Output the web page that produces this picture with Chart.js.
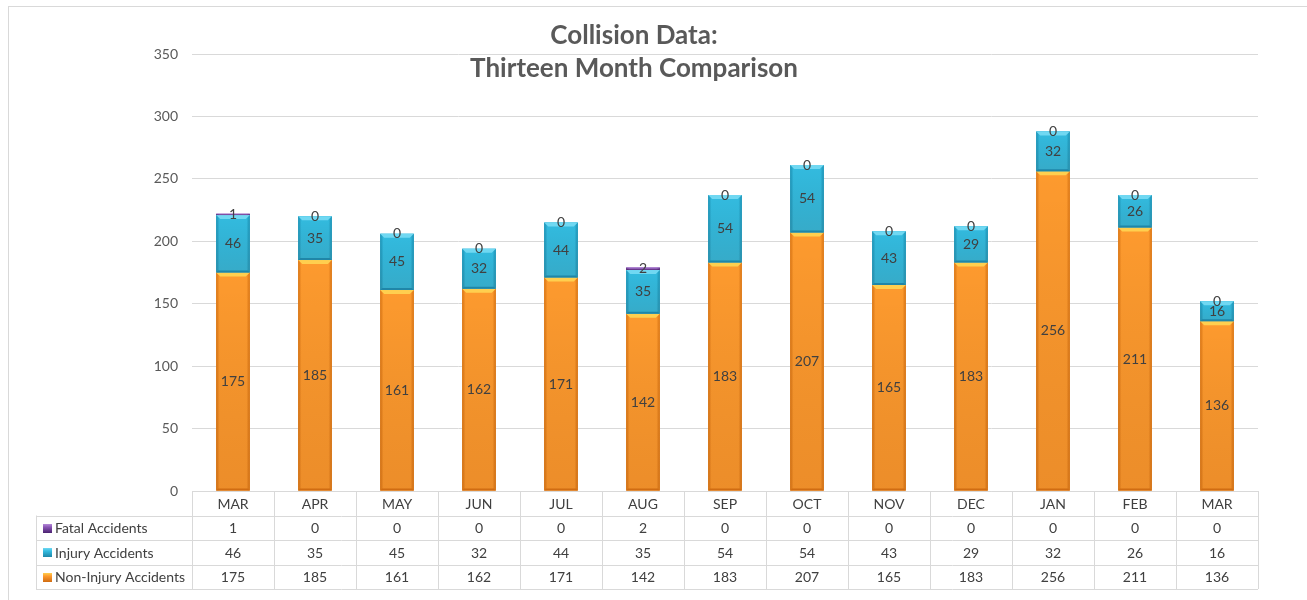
<!DOCTYPE html>
<html>
<head>
<meta charset="utf-8">
<script src="https://cdn.jsdelivr.net/npm/chart.js@4.4.1/dist/chart.umd.min.js"></script>
<style>
  html, body { margin: 0; padding: 0; background: #fff; }
  #wrap { width: 1307px; height: 600px; position: relative; }
</style>
</head>
<body>
<div id="wrap"><canvas id="collisionChart" width="1307" height="600"></canvas></div>
<script>
const months = ['MAR', 'APR', 'MAY', 'JUN', 'JUL', 'AUG', 'SEP', 'OCT', 'NOV', 'DEC', 'JAN', 'FEB', 'MAR'];
const nonInjury = [175, 185, 161, 162, 171, 142, 183, 207, 165, 183, 256, 211, 136];
const injury = [46, 35, 45, 32, 44, 35, 54, 54, 43, 29, 32, 26, 16];
const fatal = [1, 0, 0, 0, 0, 2, 0, 0, 0, 0, 0, 0, 0];
const yTicks = [0, 50, 100, 150, 200, 250, 300, 350];
const titleLines = ['Collision Data:', 'Thirteen Month Comparison'];

const FONT = 'Lato, "Open Sans", sans-serif';
const TEXT = '#404040';
const GRID = '#d9d9d9';

// colour sets for each series: edge, centre, top highlight, bottom shade
const palette = {
  nonInjury: { edge: '#d87414', mid: '#fd9a2e', light: '#ffcf4f', dark: '#d06c12' },
  injury: { edge: '#1d92b5', mid: '#33bbdf', light: '#70d8f2', dark: '#1f86a8' },
  fatal: { edge: '#5a2d82', mid: '#8a55b5', light: '#b48ad8', dark: '#4a2270' }
};

// table rows drawn under the plot, top to bottom
const tableRows = [
  { label: 'Fatal Accidents', values: fatal, key: 'fatal' },
  { label: 'Injury Accidents', values: injury, key: 'injury' },
  { label: 'Non-Injury Accidents', values: nonInjury, key: 'nonInjury' }
];

// repaints each bar with its own gradient and a bevelled edge
const bevelPlugin = {
  id: 'bevel',
  afterDatasetsDraw(chart) {
    const ctx = chart.ctx;
    ctx.save();
    chart.data.datasets.forEach((ds, i) => {
      const pal = palette[ds.key];
      chart.getDatasetMeta(i).data.forEach(bar => {
        const top = Math.min(bar.y, bar.base);
        const h = Math.abs(bar.base - bar.y);
        if (h < 0.5) return;
        const l = bar.x - bar.width / 2, w = bar.width;

        const g = ctx.createLinearGradient(l, 0, l + w, 0);
        g.addColorStop(0, pal.edge);
        g.addColorStop(0.1, pal.mid);
        g.addColorStop(0.9, pal.mid);
        g.addColorStop(1, pal.edge);
        ctx.fillStyle = g;
        ctx.fillRect(l, top, w, h);

        const vg = ctx.createLinearGradient(0, top, 0, top + h);
        vg.addColorStop(0, 'rgba(0,0,0,0)');
        vg.addColorStop(1, 'rgba(90,30,0,0.10)');
        ctx.fillStyle = vg;
        ctx.fillRect(l, top, w, h);

        const edge = Math.min(4, h / 3);
        ctx.fillStyle = pal.light;
        ctx.beginPath();
        ctx.moveTo(l, top);
        ctx.lineTo(l + w, top);
        ctx.lineTo(l + w - edge, top + edge);
        ctx.lineTo(l + edge, top + edge);
        ctx.closePath();
        ctx.fill();

        const be = Math.min(2, h / 4);
        ctx.fillStyle = pal.dark;
        ctx.beginPath();
        ctx.moveTo(l, top + h);
        ctx.lineTo(l + w, top + h);
        ctx.lineTo(l + w - be, top + h - be);
        ctx.lineTo(l + be, top + h - be);
        ctx.closePath();
        ctx.fill();
      });
    });

    // value labels
    ctx.font = '14px ' + FONT;
    ctx.fillStyle = TEXT;
    ctx.textAlign = 'center';
    ctx.textBaseline = 'middle';
    chart.data.datasets.forEach((ds, i) => {
      chart.getDatasetMeta(i).data.forEach((bar, j) => {
        ctx.fillText(String(ds.data[j]), bar.x, (bar.y + bar.base) / 2);
      });
    });
    ctx.restore();
  }
};

const tablePlugin = {
  id: 'dataTable',
  afterDraw(chart) {
    const ctx = chart.ctx;
    const xs = chart.scales.x;
    const area = chart.chartArea;
    const n = months.length;
    const colW = (area.right - area.left) / n;
    const rowH = 24.5;
    const top = area.bottom;
    const legendLeft = 36;

    ctx.save();
    ctx.strokeStyle = GRID;
    ctx.lineWidth = 1;

    const line = (x1, y, x2) => {
      ctx.beginPath();
      ctx.moveTo(x1, Math.round(y) + 0.5);
      ctx.lineTo(x2, Math.round(y) + 0.5);
      ctx.stroke();
    };
    line(area.left, top, area.right);
    for (let r = 1; r <= tableRows.length + 1; r++) {
      line(legendLeft, top + r * rowH, area.right);
    }
    const vline = (x, y1, y2) => {
      ctx.beginPath();
      ctx.moveTo(Math.round(x) + 0.5, y1);
      ctx.lineTo(Math.round(x) + 0.5, y2);
      ctx.stroke();
    };
    const bottom = top + (tableRows.length + 1) * rowH;
    vline(legendLeft, top + rowH, bottom);
    for (let c = 0; c <= n; c++) {
      vline(area.left + c * colW, top, bottom);
    }

    ctx.font = '14px ' + FONT;
    ctx.fillStyle = TEXT;
    ctx.textBaseline = 'middle';
    ctx.textAlign = 'center';
    months.forEach((m, i) => {
      ctx.fillText(m, xs.getPixelForValue(i), top + rowH / 2 + 1);
    });

    tableRows.forEach((row, r) => {
      const cy = top + (r + 1) * rowH + rowH / 2 + 1;
      const pal = palette[row.key];
      const kx = 43, ky = Math.round(cy - 5);
      const kg = ctx.createLinearGradient(0, ky, 0, ky + 9);
      kg.addColorStop(0, pal.light);
      kg.addColorStop(0.35, pal.mid);
      kg.addColorStop(1, pal.dark);
      ctx.fillStyle = kg;
      ctx.fillRect(kx, ky, 9, 9);
      ctx.fillStyle = TEXT;
      ctx.textAlign = 'left';
      ctx.fillText(row.label, 55, cy);
      ctx.textAlign = 'center';
      row.values.forEach((v, i) => {
        ctx.fillText(String(v), xs.getPixelForValue(i), cy);
      });
    });

    // title
    ctx.font = 'bold 26px ' + FONT;
    ctx.fillStyle = '#595959';
    ctx.textAlign = 'center';
    ctx.textBaseline = 'middle';
    const cx = (area.left + area.right) / 2 - 91;
    ctx.fillText(titleLines[0], cx, 36);
    ctx.fillText(titleLines[1], cx, 69);

    // chart frame
    ctx.strokeStyle = GRID;
    ctx.strokeRect(8.5, 6.5, 1307, 600);
    ctx.restore();
  }
};

new Chart(document.getElementById('collisionChart'), {
  type: 'bar',
  data: {
    labels: months,
    datasets: [
      { label: 'Non-Injury Accidents', key: 'nonInjury', data: nonInjury, backgroundColor: palette.nonInjury.mid },
      { label: 'Injury Accidents', key: 'injury', data: injury, backgroundColor: palette.injury.mid },
      { label: 'Fatal Accidents', key: 'fatal', data: fatal, backgroundColor: palette.fatal.mid }
    ]
  },
  options: {
    responsive: false,
    animation: false,
    devicePixelRatio: 1,
    datasets: {
      bar: {
        categoryPercentage: 1,
        barPercentage: 0.41,
        borderWidth: 0,
        borderSkipped: false
      }
    },
    layout: {
      padding: { left: 0, right: 49, top: 54, bottom: 109 }
    },
    plugins: {
      legend: { display: false },
      title: { display: false },
      tooltip: { enabled: false }
    },
    scales: {
      x: {
        stacked: true,
        display: false
      },
      y: {
        stacked: true,
        min: 0,
        max: 350,
        afterBuildTicks(scale) {
          scale.ticks = yTicks.map(v => ({ value: v }));
        },
        afterFit(scale) {
          scale.width = 192;
        },
        border: { display: false },
        grid: { color: GRID, drawTicks: false },
        ticks: {
          padding: 14,
          color: '#595959',
          font: { family: FONT, size: 14 }
        }
      }
    }
  },
  plugins: [bevelPlugin, tablePlugin]
});
</script>
</body>
</html>
